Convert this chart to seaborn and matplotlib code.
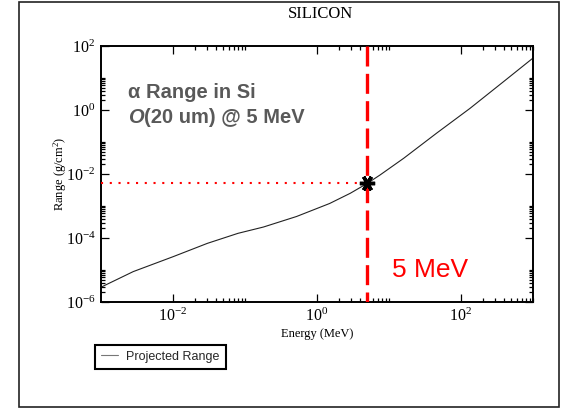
import numpy as np
import pandas as pd
import matplotlib
matplotlib.use("Agg")
import matplotlib.pyplot as plt
from matplotlib.patches import Rectangle
from matplotlib.ticker import FixedLocator, LogFormatterSciNotation, NullFormatter
import seaborn as sns

# Projected range of alpha particles in silicon
energy_mev = [0.001, 0.0028, 0.01, 0.03, 0.08, 0.18, 0.52, 1.5, 2.9, 5.0, 7.5, 16, 46, 133, 390, 1000]
range_gcm2 = [2.9e-6, 8.9e-6, 2.6e-5, 6.8e-5, 1.4e-4, 2.2e-4, 4.7e-4, 1.2e-3, 2.5e-3, 5.1e-3,
              9.3e-3, 3.1e-2, 0.19, 1.12, 7.7, 42]

# Highlighted operating point
marker_energy = 5.0
marker_range = 5.1e-3

x_major = [1e-2, 1e0, 1e2]
y_major = [1e-6, 1e-4, 1e-2, 1e0, 1e2]

sns.set_theme(style="white")
plt.rcParams["font.family"] = ["Liberation Serif", "DejaVu Serif"]
plt.rcParams["mathtext.fontset"] = "custom"
plt.rcParams["mathtext.rm"] = "Liberation Serif"
plt.rcParams["mathtext.it"] = "Liberation Serif:italic"

df = pd.DataFrame({"Energy": energy_mev, "Range": range_gcm2})

fig = plt.figure(figsize=(5.62, 4.09), dpi=100)
ax = fig.add_axes([101 / 562, 1 - 302 / 409, 432 / 562, 256 / 409])

sns.lineplot(data=df, x="Energy", y="Range", ax=ax, color="#222222", linewidth=0.8,
             label="Projected Range", legend=False)

ax.set_xscale("log")
ax.set_yscale("log")
ax.set_xlim(1e-3, 1e3)
ax.set_ylim(1e-6, 1e2)

# Vertical dashed marker and horizontal dotted guide
ax.plot([marker_energy, marker_energy], [1e2, 1e-6], color="#ff0000", linewidth=2.4,
        linestyle=(0, (6, 2.2)), solid_capstyle="butt", zorder=3)
ax.plot([1e-3, marker_energy], [marker_range, marker_range], color="#ff0000", linewidth=1.5,
        linestyle=(0, (1, 3.2)), zorder=3)
ax.plot([marker_energy], [marker_range], marker=(6, 2, 90), color="black", markersize=11,
        markeredgewidth=2.5, zorder=5)

# Ticks: majors every two decades, minors 2..10 times each major
def minor_ticks(majors):
    return [k * m for m in majors for k in range(2, 11)]

for axis, majors in ((ax.xaxis, x_major), (ax.yaxis, y_major)):
    axis.set_major_locator(FixedLocator(majors))
    axis.set_minor_locator(FixedLocator(minor_ticks(majors)))
    axis.set_major_formatter(LogFormatterSciNotation())
    axis.set_minor_formatter(NullFormatter())

ax.tick_params(which="both", direction="in", top=True, right=True, bottom=True, left=True,
               color="black", width=0.9)
ax.tick_params(which="major", length=6, labelsize=11.5, pad=4, labelcolor="black")
ax.tick_params(which="minor", length=3)

for s in ax.spines.values():
    s.set_color("black")
    s.set_linewidth(1.4)

ax.set_xlabel("Energy (MeV)", fontsize=9, labelpad=2.5, color="black")
ax.set_ylabel("Range (g/cm$^2$)", fontsize=9, color="black")
ax.yaxis.set_label_coords(-0.075, 0.5)

fig.text(320 / 562, 1 - 18.5 / 409, "SILICON", ha="center", va="baseline", fontsize=12,
         color="black")

sans = ["Liberation Sans", "DejaVu Sans"]
note_style = dict(fontsize=14.5, fontweight="bold", color="#595959", family=sans)
ax.text(0.0625, 0.796, "\u03b1 Range in Si", transform=ax.transAxes, va="baseline",
        **note_style)
big_o = ax.text(0.0625, 0.699, "O", transform=ax.transAxes, va="baseline",
                fontstyle="italic", **note_style)
ax.annotate("(20 um) @ 5 MeV", xy=(1, 0), xycoords=big_o, va="bottom", ha="left",
            **note_style)
ax.text(0.673, 0.099, "5 MeV", transform=ax.transAxes, fontsize=19, color="#ff0000",
        family=sans, va="baseline")

handles, labels = ax.get_legend_handles_labels()
leg = fig.legend(handles, labels, loc="lower left", bbox_to_anchor=(95 / 562, 1 - 369 / 409),
                 borderaxespad=0, frameon=True, fancybox=False, framealpha=1,
                 edgecolor="black", handlelength=1.3, handletextpad=0.7,
                 borderpad=0.5, prop={"family": sans, "size": 9})
leg.get_frame().set_linewidth(1.5)
for line in leg.get_lines():
    line.set_color("#777777")

fig.add_artist(Rectangle((19 / 562, 1 - 407 / 409), 540 / 562, 405 / 409,
                         transform=fig.transFigure, fill=False, edgecolor="#222222",
                         linewidth=1.2))

fig.savefig("out.png", dpi=100, facecolor="white")
